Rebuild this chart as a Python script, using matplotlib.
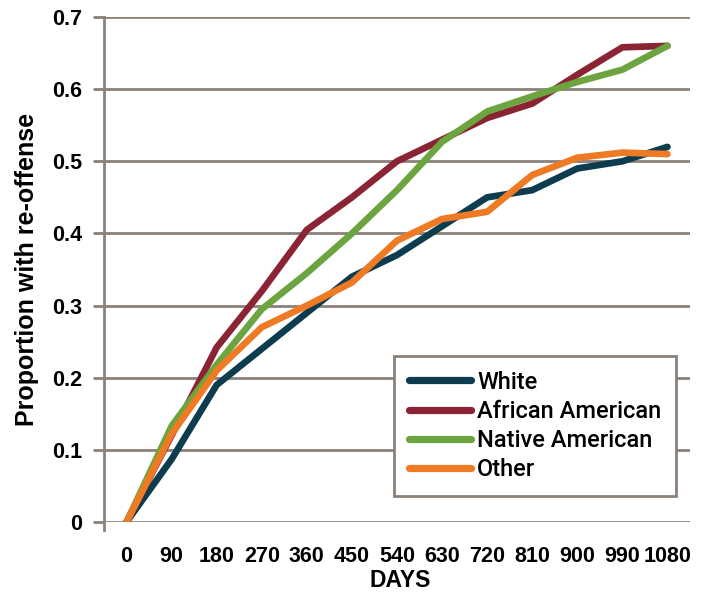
import matplotlib
matplotlib.use("Agg")
import matplotlib.pyplot as plt

days = ["0", "90", "180", "270", "360", "450", "540", "630", "720", "810", "900", "990", "1080"]
white = [0.0, 0.087, 0.19, 0.24, 0.29, 0.34, 0.37, 0.41, 0.45, 0.46, 0.49, 0.50, 0.52]
african_american = [0.0, 0.12, 0.242, 0.32, 0.405, 0.45, 0.50, 0.53, 0.56, 0.58, 0.62, 0.658, 0.66]
native_american = [0.0, 0.133, 0.218, 0.295, 0.345, 0.40, 0.46, 0.527, 0.569, 0.59, 0.61, 0.627, 0.66]
other = [0.0, 0.122, 0.21, 0.27, 0.30, 0.332, 0.39, 0.42, 0.43, 0.481, 0.505, 0.512, 0.51]
yticks = [0, 0.1, 0.2, 0.3, 0.4, 0.5, 0.6, 0.7]
ytick_labels = ["0", "0.1", "0.2", "0.3", "0.4", "0.5", "0.6", "0.7"]

series = [
    ("White", white, "#0d3c4e"),
    ("African American", african_american, "#8a2333"),
    ("Native American", native_american, "#6ca540"),
    ("Other", other, "#ef7a24"),
]

grid_c = "#8c817a"
W, H = 716, 592
fig = plt.figure(figsize=(W / 100, H / 100), dpi=100)
ax = fig.add_axes([104 / W, (H - 522) / H, (690 - 104) / W, (522 - 17) / H])

x = list(range(len(days)))
for name, vals, col in series:
    ax.plot(x, vals, color=col, lw=4.8, solid_capstyle="round",
            solid_joinstyle="round", label=name, zorder=3)

ax.set_xlim(-0.5, len(days) - 0.5)
ax.set_ylim(0, 0.7)
ax.set_yticks(yticks)
ax.set_yticklabels(ytick_labels)
ax.set_xticks(x)
ax.set_xticklabels(days)
ax.yaxis.grid(True, color=grid_c, lw=2.0, zorder=1)
ax.set_axisbelow(True)
for s in ["top", "right", "bottom"]:
    ax.spines[s].set_visible(False)
ax.spines["left"].set_color(grid_c)
ax.spines["left"].set_linewidth(2.0)
ax.spines["left"].set_bounds(-0.011, 0.7)
ax.tick_params(axis="y", length=8, width=2.0, color=grid_c, pad=8)
ax.tick_params(axis="x", length=0, pad=17)
for lab in ax.get_yticklabels() + ax.get_xticklabels():
    lab.set_fontfamily("Liberation Sans")
    lab.set_fontweight("bold")
    lab.set_fontsize(15.5)

ax.set_ylabel("Proportion with re-offense", fontfamily="Liberation Sans",
              fontweight="bold", fontsize=18, va="center")
ax.yaxis.set_label_coords(-0.131, 0.5)
ax.set_xlabel("DAYS", fontfamily="Liberation Sans", fontweight="bold",
              fontsize=16.5, va="top")
ax.xaxis.set_label_coords(0.505, -0.093)

leg = ax.legend(loc="upper left", bbox_to_anchor=(394 / W, 1 - 356 / H),
                bbox_transform=fig.transFigure, frameon=True, fancybox=False,
                handlelength=2.65, handletextpad=0.25, labelspacing=0.26,
                borderpad=0.62, borderaxespad=0,
                prop={"family": "Roboto", "size": 17.0, "weight": 500})
for h in leg.get_lines():
    h.set_linewidth(5.2)
leg.get_frame().set_edgecolor(grid_c)
leg.get_frame().set_linewidth(2.0)
leg.get_frame().set_alpha(1)

fig.savefig("out.png", dpi=100)
